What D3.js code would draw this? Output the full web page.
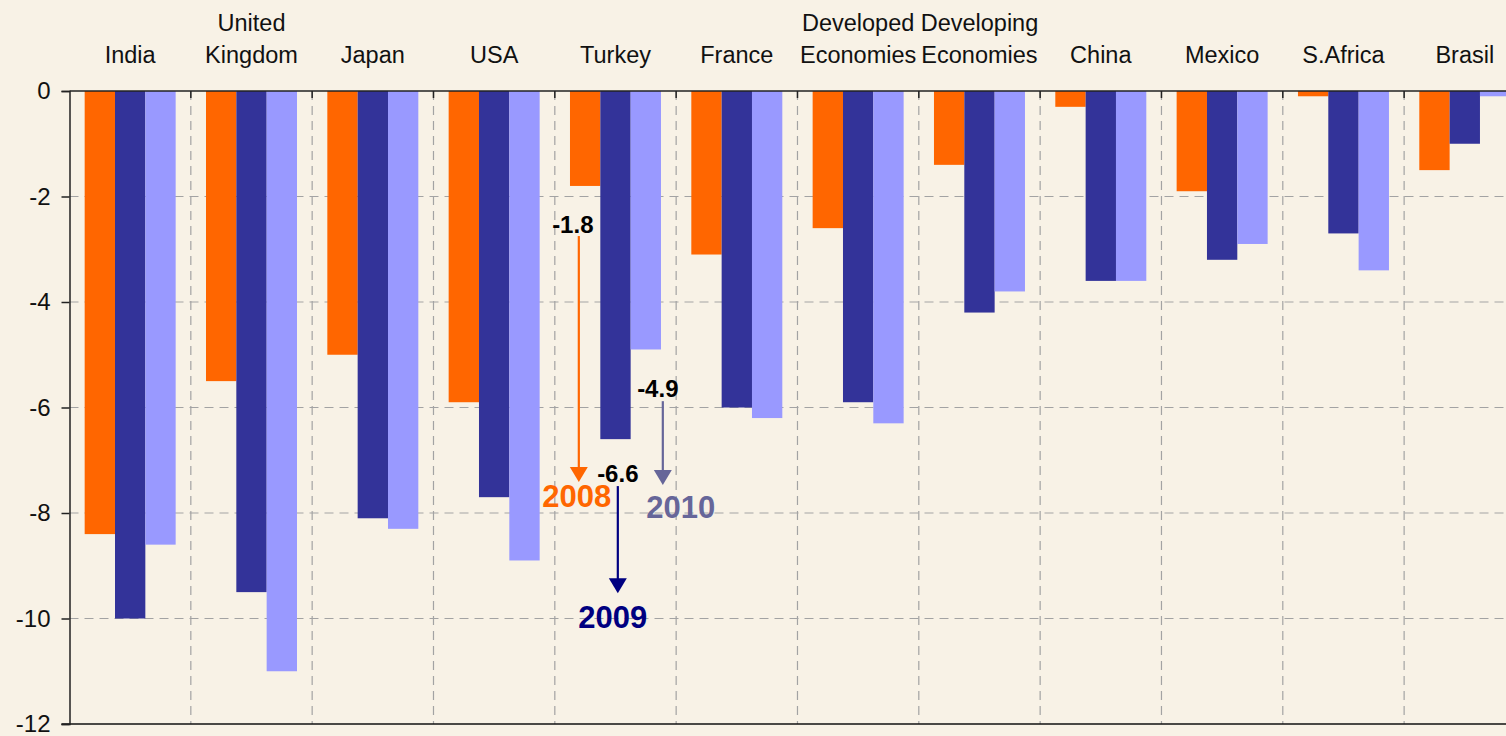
<!DOCTYPE html>
<html>
<head>
<meta charset="utf-8">
<script src="https://cdn.jsdelivr.net/npm/d3@7"></script>
<style>
  body { margin: 0; background: #F8F2E6; }
  svg { display: block; font-family: "Liberation Sans", Arial, sans-serif; }
</style>
</head>
<body>
<div id="chart"></div>
<script>
// data
var categories = [['India'], ['United', 'Kingdom'], ['Japan'], ['USA'], ['Turkey'], ['France'],
                  ['Developed', 'Economies'], ['Developing', 'Economies'], ['China'], ['Mexico'], ['S.Africa'], ['Brasil']];
var years = ['2008', '2009', '2010'];
var values2008 = [-8.4, -5.5, -5.0, -5.9, -1.8, -3.1, -2.6, -1.4, -0.3, -1.9, -0.1, -1.5];
var values2009 = [-10.0, -9.5, -8.1, -7.7, -6.6, -6.0, -5.9, -4.2, -3.6, -3.2, -2.7, -1.0];
var values2010 = [-8.6, -11.0, -8.3, -8.9, -4.9, -6.2, -6.3, -3.8, -3.6, -2.9, -3.4, -0.1];
var yTicks = [0, -2, -4, -6, -8, -10, -12];
var colors = ['#FF6600', '#333399', '#9999FF'];

// annotation for Turkey
var annotValues = ['-1.8', '-6.6', '-4.9'];
var annotColors = ['#FF6600', '#000080', '#666699'];

var W = 1506, H = 736;
var margin = {top: 91, left: 69.5, bottom: 12};
var step = 121.33;

var svg = d3.select('#chart').append('svg')
    .attr('width', W)
    .attr('height', H);

svg.append('rect').attr('width', W).attr('height', H).attr('fill', '#F8F2E6');

var x = d3.scaleBand()
    .domain(d3.range(categories.length))
    .range([margin.left, margin.left + step * categories.length])
    .paddingInner(0.25)
    .paddingOuter(0.125);

var xSub = d3.scaleBand()
    .domain(years)
    .range([0, x.bandwidth()]);

var y = d3.scaleLinear()
    .domain([0, -12])
    .range([margin.top, H - margin.bottom]);

var right = margin.left + step * categories.length;

// horizontal grid
svg.append('g')
  .selectAll('line')
  .data(yTicks.filter(function(d) { return d != 0 && d != -12; }))
  .enter().append('line')
    .attr('x1', margin.left).attr('x2', right)
    .attr('y1', function(d) { return y(d); })
    .attr('y2', function(d) { return y(d); })
    .attr('stroke', '#A3A3A3')
    .attr('stroke-width', 1.2)
    .attr('stroke-dasharray', '9,6');

// vertical grid at category boundaries
var boundaries = d3.range(1, categories.length).map(function(i) {
  return x(i) - x.step() * x.paddingInner() / 2;
});
svg.append('g')
  .selectAll('line')
  .data(boundaries)
  .enter().append('line')
    .attr('x1', function(d) { return d; }).attr('x2', function(d) { return d; })
    .attr('y1', y(0)).attr('y2', y(-12))
    .attr('stroke', '#A3A3A3')
    .attr('stroke-width', 1.2)
    .attr('stroke-dasharray', '9,6');

// bars
var series = [values2008, values2009, values2010];
series.forEach(function(vals, s) {
  svg.append('g')
    .selectAll('rect')
    .data(vals)
    .enter().append('rect')
      .attr('x', function(d, i) { return x(i) + xSub(years[s]); })
      .attr('width', xSub.bandwidth())
      .attr('y', y(0))
      .attr('height', function(d) { return y(d) - y(0); })
      .attr('fill', colors[s]);
});

// category axis along zero
svg.append('line')
    .attr('x1', margin.left).attr('x2', right)
    .attr('y1', y(0)).attr('y2', y(0))
    .attr('stroke', '#222').attr('stroke-width', 1.5);
svg.append('g')
  .selectAll('line')
  .data(boundaries)
  .enter().append('line')
    .attr('x1', function(d) { return d; }).attr('x2', function(d) { return d; })
    .attr('y1', y(0)).attr('y2', y(0) + 7)
    .attr('stroke', '#222').attr('stroke-width', 1.5);

// bottom border
svg.append('line')
    .attr('x1', margin.left - 8).attr('x2', right)
    .attr('y1', y(-12)).attr('y2', y(-12))
    .attr('stroke', '#111').attr('stroke-width', 1.5);

// y axis
var yAxis = svg.append('g')
    .attr('transform', 'translate(' + margin.left + ',0)')
    .call(d3.axisLeft(y).tickValues(yTicks).tickSize(8).tickPadding(11).tickFormat(d3.format('d')));
yAxis.select('.domain').attr('stroke', '#222').attr('stroke-width', 1.5);
yAxis.selectAll('.tick line').attr('stroke', '#222').attr('stroke-width', 1.5);
yAxis.selectAll('.tick text')
    .attr('font-size', '24px')
    .attr('fill', '#111')
    .attr('font-family', '"Liberation Sans", Arial, sans-serif')
    .text(function(d) { return d == 0 ? '0' : '-' + Math.abs(d); });

// category labels above the chart
var labels = svg.append('g')
  .selectAll('text')
  .data(categories)
  .enter().append('text')
    .attr('text-anchor', 'middle')
    .attr('font-size', '23.5px')
    .attr('fill', '#111');
labels.each(function(lines, i) {
  var t = d3.select(this);
  var cx = x(i) + x.bandwidth() / 2;
  lines.forEach(function(line, j) {
    t.append('tspan')
      .attr('x', cx)
      .attr('y', 63 - (lines.length - 1 - j) * 32)
      .text(line);
  });
});

// annotations on Turkey: layout in data units (offset from left boundary of the Turkey band)
var turkeyLeft = x(4) - x.step() * x.paddingInner() / 2;
var annotLayout = [
  {labelDx: 18, labelV: -2.69, arrowDx: 24, from: -2.75, to: -7.41, yearDx: 22, yearV: -7.89},
  {labelDx: 63, labelV: -7.41, arrowDx: 63, from: -7.49, to: -9.52, yearDx: 58, yearV: -10.18},
  {labelDx: 103, labelV: -5.80, arrowDx: 108, from: -5.88, to: -7.47, yearDx: 126, yearV: -8.09}
];

annotLayout.forEach(function(a, i) {
  var g = svg.append('g');
  var ax = turkeyLeft + a.arrowDx;
  g.append('line')
      .attr('x1', ax).attr('x2', ax)
      .attr('y1', y(a.from)).attr('y2', y(a.to) - 14)
      .attr('stroke', annotColors[i])
      .attr('stroke-width', 2.2);
  g.append('path')
      .attr('d', 'M' + (ax - 9) + ',' + (y(a.to) - 15) +
                 ' L' + (ax + 9) + ',' + (y(a.to) - 15) +
                 ' L' + ax + ',' + y(a.to) + ' Z')
      .attr('fill', annotColors[i]);
  g.append('text')
      .attr('x', turkeyLeft + a.labelDx)
      .attr('y', y(a.labelV))
      .attr('text-anchor', 'middle')
      .attr('font-size', '24px')
      .attr('font-weight', 'bold')
      .attr('fill', '#000')
      .text(annotValues[i]);
  g.append('text')
      .attr('x', turkeyLeft + a.yearDx)
      .attr('y', y(a.yearV))
      .attr('text-anchor', 'middle')
      .attr('font-size', '31px')
      .attr('font-weight', 'bold')
      .attr('fill', annotColors[i])
      .text(years[i]);
});
</script>
</body>
</html>
